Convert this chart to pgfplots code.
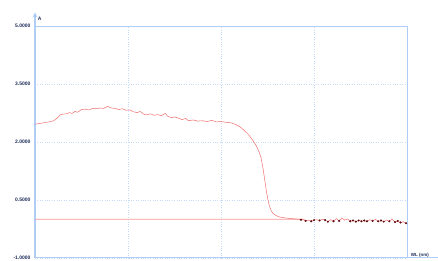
\documentclass[border=0pt]{standalone}
\usepackage{pgfplots}
\pgfplotsset{compat=1.18}
\usepackage{fontspec}
\setmainfont{Liberation Sans}
\definecolor{gridblue}{RGB}{195,218,248}
\definecolor{axblue}{RGB}{175,205,245}
\definecolor{curvered}{RGB}{240,110,110}
\definecolor{basered}{RGB}{245,150,150}
\definecolor{darkpts}{RGB}{90,10,10}
\definecolor{labnavy}{RGB}{30,45,90}
\begin{document}
\begin{tikzpicture}[x=1pt,y=1pt]
\path[use as bounding box] (0,0) rectangle (438,260);
\begin{axis}[
  at={(35pt,2pt)}, anchor=south west,
  scale only axis, width=372pt, height=232pt,
  xmin=0, xmax=400, ymin=-1, ymax=5,
  axis line style={draw=none},
  xtick={100,200,300}, xticklabels={},
  ytick={-1,0.5,2,3.5,5},
  major tick length=0pt,
  grid=major,
  major grid style={draw=gridblue, dotted, line width=0.8pt},
  yticklabel style={font=\fontsize{5}{6}\selectfont\bfseries, text=labnavy, xshift=-1pt},
  /pgf/number format/.cd, fixed, fixed zerofill, precision=4, assume math mode=true,
  /pgfplots/.cd,
  clip=false,
]
\draw[axblue, line width=0.8pt] (axis cs:0,5) -- (axis cs:400,5);
\draw[axblue, line width=0.8pt] (axis cs:400,-1) -- (axis cs:400,5);
\draw[axblue, line width=1.2pt] (axis cs:0,-0.99) -- (axis cs:433,-0.99);
\draw[axblue, line width=1.2pt, -stealth] (axis cs:0,-1) -- (axis cs:0,5.35);
\node[anchor=south west, font=\fontsize{5}{6}\selectfont\bfseries, text=labnavy, inner sep=0pt] at (axis cs:3,5.15) {A};
\node[anchor=base west, font=\fontsize{4.5}{5}\selectfont\bfseries, text=labnavy, inner sep=0pt] at (axis cs:404,-0.95) {WL (nm)};
\addplot[draw=basered, line width=0.7pt, mark=none] coordinates {(0,0.001) (100,0.0) (200,0.002) (290,0.0)};
\addplot[draw=curvered, line width=0.5pt, mark=none] coordinates {
(0,2.46) (5,2.48) (10,2.50) (15,2.52) (20,2.55) (24,2.62) (27,2.70) (30,2.72)
(34,2.73) (37,2.76) (40,2.74) (43,2.79) (46,2.77) (50,2.84) (54,2.85) (58,2.83)
(62,2.87) (66,2.86) (70,2.88) (74,2.87) (78,2.92) (82,2.88) (86,2.87) (90,2.84)
(94,2.86) (98,2.82) (102,2.83) (106,2.78) (110,2.76) (113,2.79) (117,2.72) (120,2.70)
(124,2.73) (128,2.69) (132,2.71) (136,2.68) (140,2.74) (143,2.66) (147,2.63) (150,2.65)
(154,2.62) (158,2.58) (162,2.61) (165,2.55) (170,2.57) (175,2.54) (180,2.55) (185,2.53)
(190,2.56) (195,2.52) (200,2.53) (205,2.51) (210,2.50) (215,2.46) (220,2.40) (225,2.30)
(230,2.18) (234,2.05) (238,1.90) (241,1.74) (243,1.60) (245,1.35) (247,1.02) (249,0.70)
(250.5,0.50) (252,0.35) (254,0.22) (256,0.15) (259,0.10) (263,0.06) (268,0.04) (275,0.02)
(281,0.01) (285,0.00)
(288,-0.01) (291,-0.04) (294,-0.02) (297,-0.05) (300,-0.02) (303,-0.01) (306,-0.03)
(309,0.00) (312,-0.02) (315,-0.06) (318,-0.01) (321,-0.05) (324,0.02) (327,-0.04)
(330,0.03) (333,-0.02) (336,0.01) (339,-0.05) (342,-0.03) (345,-0.06) (348,-0.02)
(351,-0.05) (354,-0.03) (357,-0.06) (360,-0.01) (363,-0.04) (366,0.00) (369,-0.05)
(372,-0.03) (375,-0.06) (378,-0.02) (381,-0.05) (384,0.01) (387,-0.07) (390,-0.04)
(393,-0.09) (396,-0.06) (399,-0.11)
};
\addplot[only marks, mark=*, mark size=0.8pt, darkpts] coordinates {
(286,-0.01) (291,-0.04) (297,-0.05) (300,-0.02) (306,-0.03) (312,-0.02) (315,-0.06)
(321,-0.05) (327,-0.04) (339,-0.05) (342,-0.03) (345,-0.06) (348,-0.03) (351,-0.05)
(354,-0.03) (357,-0.05) (363,-0.04) (369,-0.05) (372,-0.03) (375,-0.06) (381,-0.05)
(387,-0.07) (390,-0.04) (393,-0.08) (399,-0.10)
};
\end{axis}
\end{tikzpicture}
\end{document}
